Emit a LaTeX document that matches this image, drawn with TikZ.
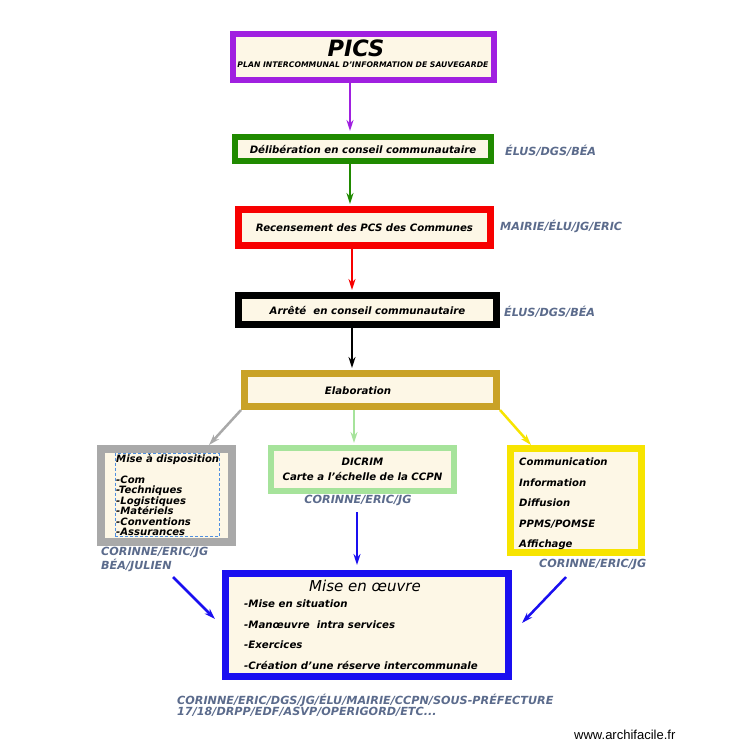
\documentclass[tikz,border=0pt]{standalone}
\usepackage{fontspec}
\setmainfont{DejaVu Sans}
\newfontfamily\arialfont{Liberation Sans}
\usetikzlibrary{arrows.meta}
\definecolor{creme}{HTML}{FDF7E6}
\definecolor{violet}{HTML}{A020E0}
\definecolor{vert}{HTML}{208A00}
\definecolor{rouge}{HTML}{F70000}
\definecolor{ocre}{HTML}{C9A227}
\definecolor{gris}{HTML}{A9A9A9}
\definecolor{vertclair}{HTML}{A6E39B}
\definecolor{jaune}{HTML}{F7E400}
\definecolor{bleu}{HTML}{1A0FF0}
\definecolor{ardoise}{HTML}{5B6B8C}
\definecolor{pointille}{HTML}{4F8FE0}
\tikzset{
  boite/.style={draw, fill=creme, line width=7pt, inner sep=0pt,
    font=\fontsize{10.2}{11}\selectfont\bfseries\itshape},
  texte/.style={inner sep=0pt, font=\fontsize{10.1}{10.5}\selectfont\bfseries\itshape},
  resp/.style={inner sep=0pt, text=ardoise, align=left,
    font=\fontsize{11.2}{11}\selectfont\bfseries\itshape},
  fleche/.style={line width=2.5pt, -{Stealth[length=11pt,width=7pt]}},
}

\begin{document}
\begin{tikzpicture}[x=1pt,y=-1pt]
   \useasboundingbox (0,0) rectangle (750,750);

   \node[boite, draw=violet, line width=6pt, minimum width=261pt, minimum height=46pt] (pics) at (363.5,57) {};
   \node[texte, font=\fontsize{22.5}{22}\selectfont\bfseries\itshape] (picst) at (356,48) {PICS};
   \node[texte, font=\fontsize{7.7}{8}\selectfont\bfseries\itshape] (picss) at (363,65) {PLAN INTERCOMMUNAL D'INFORMATION DE SAUVEGARDE};

   \node[boite, draw=vert, line width=6pt, minimum width=256pt, minimum height=24pt] (delib) at (363,149) {Délibération en conseil communautaire};
   \node[boite, draw=rouge, minimum width=252pt, minimum height=36pt] (recens) at (364.5,227.5) {Recensement des PCS des Communes};
   \node[boite, draw=black, minimum width=258pt, minimum height=29pt] (arrete) at (367.5,310) {Arrêté \ en conseil communautaire};
   \node[boite, draw=ocre, minimum width=252pt, minimum height=33pt] (elab) at (370.5,390) {};
   \node[texte, font=\fontsize{10.2}{11}\selectfont\bfseries\itshape] (elabt) at (358,391) {Elaboration};

   \node[boite, draw=gris, line width=8pt, minimum width=131pt, minimum height=93pt] (dispo) at (166.5,495.5) {};
   \node[draw=pointille, densely dashed, line width=0.6pt, minimum width=104pt, minimum height=83pt] (dispob) at (167,495) {};
   \node[texte, align=left, anchor=north west] (dispot) at (116,454)
      {Mise à disposition\\[10.5pt]-Com\\-Techniques\\-Logistiques\\-Matériels\\-Conventions\\-Assurances};

   \node[boite, draw=vertclair, line width=6pt, minimum width=183pt, minimum height=43pt, align=center,
      font=\fontsize{10.2}{15}\selectfont\bfseries\itshape] (dicrim) at (362.5,469.5) {DICRIM\\Carte a l’échelle de la CCPN};

   \node[boite, draw=jaune, minimum width=131pt, minimum height=104pt] (commu) at (576,500.5) {};
   \node[texte, align=left, anchor=north west, font=\fontsize{10.1}{20.5}\selectfont\bfseries\itshape] (commut) at (519,458)
      {Communication\\Information\\Diffusion\\PPMS/POMSE\\Affichage};

   \node[boite, draw=bleu, minimum width=283pt, minimum height=103pt] (oeuvre) at (367,625) {};
   \node[texte, font=\fontsize{15}{15}\selectfont\itshape] (oeuvret) at (365,586) {Mise en œuvre};
   \node[texte, align=left, anchor=north west, font=\fontsize{10.2}{20.4}\selectfont\bfseries\itshape] (oeuvrel) at (244,600)
      {-Mise en situation\\-Manœuvre \ intra services\\-Exercices\\-Création d'une réserve intercommunale};

   \node[resp, anchor=west] (r1) at (505,151) {ÉLUS/DGS/BÉA};
   \node[resp, anchor=west] (r2) at (500,226) {MAIRIE/ÉLU/JG/ERIC};
   \node[resp, anchor=west] (r3) at (504,312) {ÉLUS/DGS/BÉA};
   \node[resp] (r4) at (358,500) {CORINNE/ERIC/JG};
   \node[resp, anchor=north west] (r5) at (101,547) {CORINNE/ERIC/JG\\BÉA/JULIEN};
   \node[resp, anchor=west] (r6) at (539,564) {CORINNE/ERIC/JG};
   \node[resp, anchor=north west] (r7) at (177,694) {CORINNE/ERIC/DGS/JG/ÉLU/MAIRIE/CCPN/SOUS-PRÉFECTURE\\17/18/DRPP/EDF/ASVP/OPERIGORD/ETC...};
   \node[inner sep=0pt, anchor=west, font=\arialfont\fontsize{13}{14}\selectfont] (site) at (574,735) {www.archifacile.fr};

   \draw[fleche, violet] ([xshift=-13.5pt]pics.south) -- ([xshift=-13pt,yshift=3pt]delib.north);
   \draw[fleche, vert] ([xshift=-13pt]delib.south) -- ([xshift=-14.5pt,yshift=2pt]recens.north);
   \draw[fleche, rouge] ([xshift=-12.5pt]recens.south) -- ([xshift=-15.5pt,yshift=2pt]arrete.north);
   \draw[fleche, black] ([xshift=-15.5pt]arrete.south) -- ([xshift=-18.5pt,yshift=2pt]elab.north);
   \draw[fleche, gris] (elab.south west) -- ([xshift=-27pt]dispo.north east);
   \draw[fleche, vertclair] ([xshift=-16.5pt]elab.south) -- ([xshift=-8.5pt,yshift=2pt]dicrim.north);
   \draw[fleche, jaune] (elab.south east) -- ([xshift=24pt]commu.north west);
   \draw[fleche, bleu] ([xshift=-5.5pt,yshift=-18pt]dicrim.south) -- ([xshift=-10pt,yshift=5pt]oeuvre.north);
   \draw[fleche, bleu] ([xshift=6.5pt,yshift=-31pt]dispo.south) -- ([xshift=-7pt,yshift=6pt]oeuvre.west);
   \draw[fleche, bleu] ([xshift=-10pt,yshift=-21pt]commu.south) -- ([xshift=10pt,yshift=2pt]oeuvre.east);
\end{tikzpicture}
\end{document}
